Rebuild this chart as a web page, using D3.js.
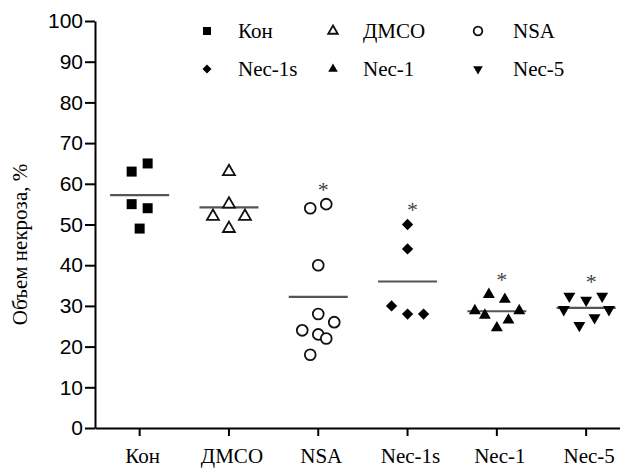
<!DOCTYPE html>
<html><head><meta charset="utf-8">
<script src="https://cdn.jsdelivr.net/npm/d3@7"></script>
<style>body{margin:0;background:#fff}svg{display:block}</style>
</head><body>
<svg id="c" width="620" height="468"></svg>
<script>
const categories = ["Кон","ДМСО","NSA","Nec-1s","Nec-1","Nec-5"];
const konValues   = [65, 63, 55, 54, 49];
const dmsoValues  = [63, 55, 52, 52, 49];
const nsaValues   = [54, 55, 40, 28, 26, 24, 23, 22, 18];
const nec1sValues = [50, 44, 30, 28, 28];
const nec1Values  = [32.8, 31.6, 28.8, 28.8, 27.7, 26.5, 24.6];
const nec5Values  = [32.4, 31.4, 32.4, 29.1, 29.1, 27.1, 25.2];
// horizontal spread slot of each point (scatter-dot-plot arrangement)
const konSpread   = [1, -1, -1, 1, 0];
const dmsoSpread  = [0, 0, -2, 2, 0];
const nsaSpread   = [-1, 1, 0, 0, 2, -2, 0, 1, -1];
const nec1sSpread = [0, 0, -2, 0, 2];
const nec1Spread  = [-1, 1, -2.75, 2.8, -1.5, 1.45, 0];
const nec5Spread  = [-2.1, 0, 2, -2.8, 2.85, 1.05, -0.85];
const significance = ["", "", "*", "*", "*", "*"];
const yTicks = [0,10,20,30,40,50,60,70,80,90,100];
const yLabel = "Объем некроза, %";

const SERIF = "'Liberation Serif'";
const SANS = "'Liberation Sans'";

const groups = [
  {name: categories[0], values: konValues,   spread: konSpread,   shape: "square",   filled: true},
  {name: categories[1], values: dmsoValues,  spread: dmsoSpread,  shape: "triangle", filled: false},
  {name: categories[2], values: nsaValues,   spread: nsaSpread,   shape: "circle",   filled: false},
  {name: categories[3], values: nec1sValues, spread: nec1sSpread, shape: "diamond",  filled: true},
  {name: categories[4], values: nec1Values,  spread: nec1Spread,  shape: "triangle", filled: true},
  {name: categories[5], values: nec5Values,  spread: nec5Spread,  shape: "triangleDown", filled: true}
];

const svg = d3.select("#c");
const x0 = 95, step = 89.3;
const x = d3.scaleBand().domain(categories).range([x0, x0 + step * categories.length]).padding(0);
const y = d3.scaleLinear().domain([0, 100]).range([428, 21]);
const slot = 8;

function symPath(shape, k) {
  k = k || 1;
  switch (shape) {
    case "square": return d3.symbol(d3.symbolSquare, 100 * k * k)();
    case "circle": return d3.symbol(d3.symbolCircle, 92 * k * k)();
    case "diamond": return d3.symbol(d3.symbolSquare, 64 * k * k)();
    default: return d3.symbol(d3.symbolTriangle, 62 * k * k)();
  }
}
function symRot(shape) {
  if (shape === "diamond") return 45;
  if (shape === "triangleDown") return 180;
  return 0;
}
function drawSym(sel, shape, filled, k) {
  sel.append("path")
    .attr("d", symPath(shape, k))
    .attr("fill", filled ? "#000" : "#fff")
    .attr("stroke", filled ? "none" : "#111")
    .attr("stroke-width", filled ? 0 : 1.8);
}

// axes
const yAxis = svg.append("g").attr("transform", `translate(${x0},0)`)
  .call(d3.axisLeft(y).tickValues(yTicks).tickSize(10).tickSizeOuter(0).tickPadding(2));
yAxis.selectAll("path,line").attr("stroke", "#000").attr("stroke-width", 2);
yAxis.selectAll("text").style("font-family", SANS).style("font-size", "21px").attr("fill", "#000");

const xAxis = svg.append("g").attr("transform", `translate(0,${y(0)})`)
  .call(d3.axisBottom(x).tickSize(8).tickSizeOuter(0).tickPadding(12));
xAxis.selectAll("path,line").attr("stroke", "#000").attr("stroke-width", 2);
xAxis.selectAll("text").style("font-family", SERIF).style("font-size", "21px").attr("fill", "#000").attr("dx", 3);

svg.append("text")
  .attr("transform", `translate(27,${(y(0)+y(100))/2 + 20}) rotate(-90)`)
  .attr("text-anchor", "middle")
  .style("font-family", SERIF).style("font-size", "21px")
  .text(yLabel);

// points, means, significance
groups.forEach((g, gi) => {
  const cx = x(g.name) + x.bandwidth() / 2;
  const mean = d3.mean(g.values);
  svg.append("line")
    .attr("x1", cx - 29.5).attr("x2", cx + 29.5)
    .attr("y1", y(mean)).attr("y2", y(mean))
    .attr("stroke", "#555").attr("stroke-width", 2.2);
  g.values.forEach((v, i) => {
    const p = svg.append("g")
      .attr("transform", `translate(${cx + g.spread[i] * slot},${y(v)}) rotate(${symRot(g.shape)})`);
    drawSym(p, g.shape, g.filled, 1);
  });
  if (significance[gi]) {
    svg.append("text")
      .attr("x", cx + 5).attr("y", y(d3.max(g.values)) - 21)
      .attr("dy", "0.62em")
      .attr("text-anchor", "middle")
      .style("font-family", SERIF).style("font-size", "22px").attr("fill", "#444")
      .text(significance[gi]);
  }
});

// legend
const legX = [207, 333, 478], legY = [31, 69];
groups.forEach((g, gi) => {
  const col = gi % 3, row = Math.floor(gi / 3);
  const lg = svg.append("g").attr("transform", `translate(${legX[col]},${legY[row]})`);
  const m = lg.append("g").attr("transform", `rotate(${symRot(g.shape)})`);
  drawSym(m, g.shape, g.filled, 0.8);
  lg.append("text").attr("x", [31, 30, 35][col]).attr("y", 0).attr("dy", "0.35em")
    .style("font-family", SERIF).style("font-size", "21px").text(g.name);
});
</script>
</body></html>
